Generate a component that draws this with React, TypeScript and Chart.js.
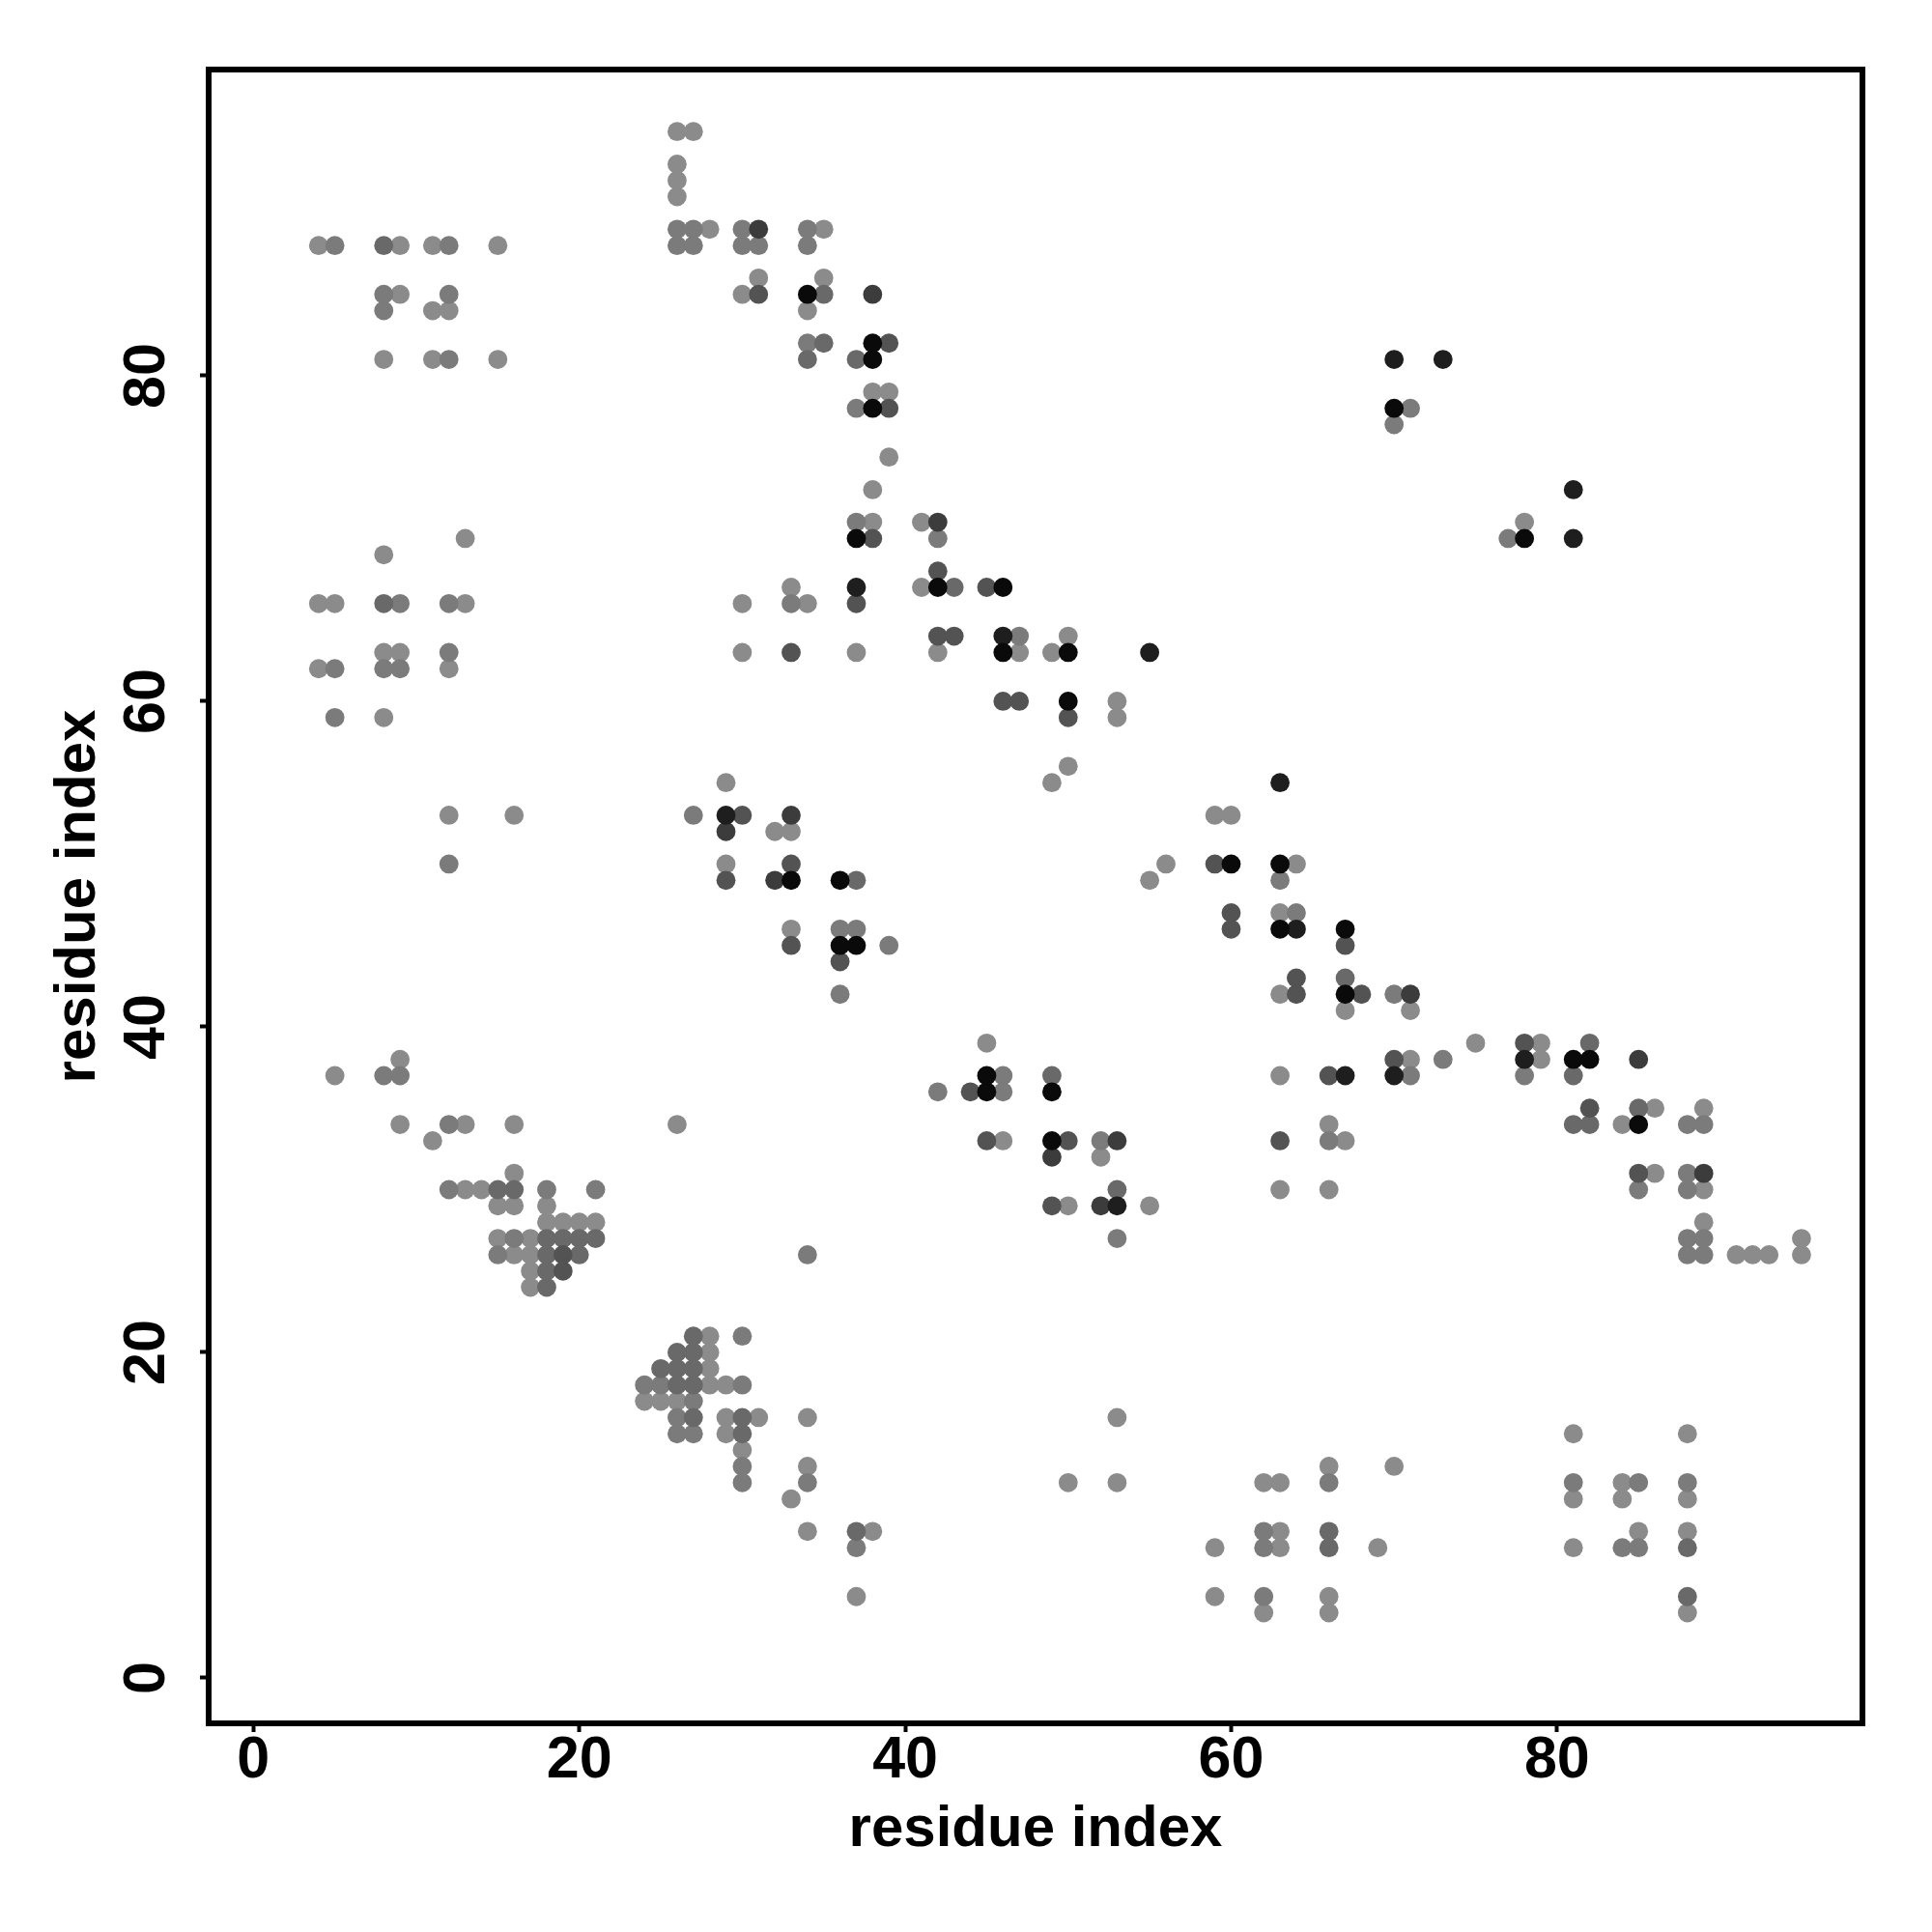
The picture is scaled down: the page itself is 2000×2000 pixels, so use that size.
import React, { useEffect, useRef } from "react";
import { Chart, registerables } from "chart.js";

Chart.register(...registerables);

type Pair = [number, number];

const axisTitle = "residue index";
const xRange = [-2.745, 98.74];
const yRange = [-2.79, 98.81];
const tickStep = 20;

const shades = ["#8b8b8b", "#7b7b7b", "#696969", "#535353", "#3c3c3c", "#1e1e1e", "#0a0a0a"];

const contactsLightest: Pair[] = [
  [26,95],[27,95],[26,93],[26,92],[26,91],[28,89],[35,89],[4,88],[9,88],[11,88],[15,88],[31,86],[35,86],[9,85],[30,85],
  [11,84],[12,84],[34,84],[8,81],[11,81],[15,81],[38,79],[39,79],[39,75],[38,73],[38,71],[41,71],[78,71],[13,70],[8,69],
  [33,67],[41,67],[4,66],[5,66],[13,66],[30,66],[34,66],[50,64],[8,63],[9,63],[30,63],[37,63],[42,63],[47,63],[49,63],
  [4,62],[12,62],[53,60],[8,59],[53,59],[50,56],[29,55],[49,55],[12,53],[16,53],[59,53],[60,53],[32,52],[33,52],[29,50],
  [56,50],[64,50],[55,49],[33,46],[63,47],[63,42],[67,41],[71,41],[75,39],[79,39],[45,39],[71,38],[79,38],[63,37],[86,35],
  [89,35],[84,34],[66,34],[46,33],[67,33],[52,32],[86,31],[63,30],[66,30],[89,30],[50,29],[55,29],[89,28],[95,27],[91,26],
  [92,26],[93,26],[95,26],[9,38],[5,37],[9,34],[13,34],[16,34],[26,34],[11,33],[16,31],[13,30],[14,30],[15,29],[16,29],
  [18,29],[18,28],[19,28],[20,28],[21,28],[15,27],[17,27],[16,26],[17,26],[17,25],[17,24],[28,21],[28,20],[28,19],[28,18],
  [29,18],[24,17],[25,17],[26,17],[29,16],[31,16],[34,16],[29,15],[30,14],[34,13],[33,11],[34,9],[38,9],[37,5],[81,15],
  [88,15],[66,13],[70,13],[62,12],[63,12],[50,12],[53,12],[53,16],[81,11],[84,11],[88,11],[84,12],[63,9],[85,9],[88,9],
  [59,8],[63,8],[69,8],[81,8],[59,5],[66,5],[62,4],[66,4],[88,4],
];

const contactsLight: Pair[] = [
  [26,89],[27,89],[30,89],[34,89],[5,88],[12,88],[26,88],[27,88],[30,88],[31,88],[34,88],[8,85],[12,85],[8,84],[12,81],
  [34,82],[37,78],[71,78],[70,77],[37,71],[42,70],[77,70],[33,66],[12,66],[9,66],[47,64],[12,63],[5,62],[8,62],[9,62],
  [5,59],[27,53],[12,50],[63,49],[64,47],[36,46],[37,46],[39,45],[36,42],[46,37],[46,36],[42,36],[52,33],[53,27],[70,42],
  [73,38],[71,37],[78,37],[88,34],[89,34],[66,33],[88,31],[85,30],[88,30],[88,27],[89,27],[88,26],[89,26],[8,37],[9,37],
  [12,34],[12,30],[18,30],[21,30],[16,27],[15,26],[34,26],[30,21],[24,18],[25,18],[30,18],[27,17],[26,16],[26,15],[27,15],
  [30,13],[66,12],[81,12],[85,12],[88,12],[30,12],[34,12],[37,8],[62,9],[62,8],[84,8],[85,8],[62,5],
];

const contactsMedium: Pair[] = [
  [35,85],[35,82],[34,81],[37,81],[8,88],[15,30],[16,30],[8,66],[43,67],[37,49],[67,43],[82,39],[49,37],[53,30],[81,37],
  [85,35],[81,34],[82,34],[18,27],[19,27],[20,27],[21,27],[18,26],[20,26],[18,25],[18,24],[27,21],[26,20],[27,20],[25,19],
  [26,19],[27,19],[26,18],[27,18],[27,16],[30,16],[30,15],[37,9],[66,9],[66,8],[88,8],[88,5],
];

const contactsDarkish: Pair[] = [
  [31,85],[39,82],[39,78],[38,70],[42,68],[45,67],[37,66],[42,64],[43,64],[33,63],[46,60],[47,60],[50,59],[30,53],[33,50],
  [59,50],[29,49],[33,45],[36,44],[60,47],[60,46],[67,45],[64,43],[64,42],[68,42],[78,39],[70,38],[66,37],[82,35],[85,31],
  [44,36],[45,33],[50,33],[49,29],[63,33],[19,26],[19,25],
];

const contactsDark: Pair[] = [
  [31,89],[38,85],[42,71],[29,52],[33,53],[32,49],[71,42],[85,38],[89,31],[49,32],[52,29],[53,33],
];

const contactsDarker: Pair[] = [
  [70,81],[73,81],[81,73],[81,70],[37,67],[46,64],[55,63],[63,55],[29,53],[64,46],[78,38],[67,37],[70,37],[53,29],
];

const contactsDarkest: Pair[] = [
  [34,85],[38,82],[38,81],[38,78],[70,78],[37,70],[78,70],[42,67],[46,67],[46,63],[50,63],[50,60],[60,50],[63,50],[33,49],
  [36,49],[63,46],[67,46],[36,45],[37,45],[67,42],[81,38],[82,38],[45,37],[45,36],[49,36],[85,34],[49,33],
];

const contactGroups = [
  contactsLightest, contactsLight, contactsMedium, contactsDarkish, contactsDark, contactsDarker, contactsDarkest,
];

const FONT = '"Liberation Sans", Arial, sans-serif';

const framePlugin = {
  id: "frame",
  afterDatasetsDraw(chart: any) {
    const { ctx, chartArea: a } = chart;
    ctx.save();
    ctx.strokeStyle = "#000";
    ctx.lineWidth = 6;
    ctx.lineJoin = "miter";
    ctx.strokeRect(a.left, a.top, a.right - a.left, a.bottom - a.top);
    ctx.restore();
  },
};

export default function App() {
  const ref = useRef<HTMLCanvasElement>(null);
  useEffect(() => {
    if (!ref.current) return;
    const chart = new Chart(ref.current, {
      type: "scatter",
      data: {
        datasets: contactGroups.map((group, i) => ({
          label: `shade ${i}`,
          data: group.map(([x, y]) => ({ x, y })),
          backgroundColor: shades[i],
          borderWidth: 0,
          pointRadius: 9.9,
          pointHoverRadius: 9.9,
          order: contactGroups.length - i,
        })),
      },
      options: {
        responsive: false,
        animation: false,
        devicePixelRatio: 1,
        layout: { padding: { top: 72, right: 72, left: 0, bottom: 0 } },
        plugins: { legend: { display: false }, tooltip: { enabled: false }, title: { display: false } },
        scales: {
          x: {
            type: "linear",
            min: xRange[0],
            max: xRange[1],
            afterFit(s: any) { s.height = 216; },
            grid: { drawOnChartArea: false, drawTicks: true, tickLength: 9, tickColor: "#000", tickWidth: 4 },
            border: { display: false },
            ticks: {
              stepSize: tickStep,
              includeBounds: false,
              autoSkip: false,
              maxRotation: 0,
              minRotation: 0,
              padding: -6,
              color: "#000",
              font: { family: FONT, weight: "bold", size: 61 },
            },
            title: {
              display: true,
              text: axisTitle,
              color: "#000",
              font: { family: FONT, weight: "bold", size: 60 },
              padding: { top: 0, bottom: 70 },
            },
          },
          y: {
            type: "linear",
            min: yRange[0],
            max: yRange[1],
            afterFit(s: any) { s.width = 216; },
            grid: { drawOnChartArea: false, drawTicks: true, tickLength: 9, tickColor: "#000", tickWidth: 4 },
            border: { display: false },
            ticks: {
              stepSize: tickStep,
              includeBounds: false,
              autoSkip: false,
              minRotation: 90,
              maxRotation: 90,
              crossAlign: "center",
              padding: 20,
              color: "#000",
              font: { family: FONT, weight: "bold", size: 61 },
            },
            title: {
              display: true,
              text: axisTitle,
              color: "#000",
              font: { family: FONT, weight: "bold", size: 60 },
              padding: { top: 45, bottom: 0 },
            },
          },
        },
      } as any,
      plugins: [framePlugin],
    });
    return () => chart.destroy();
  }, []);
  return (
    <div style={{ position: "absolute", left: 0, top: 0, width: 2000, height: 2000, background: "#fff" }}>
      <canvas ref={ref} width={2000} height={2000} style={{ display: "block" }} />
    </div>
  );
}
